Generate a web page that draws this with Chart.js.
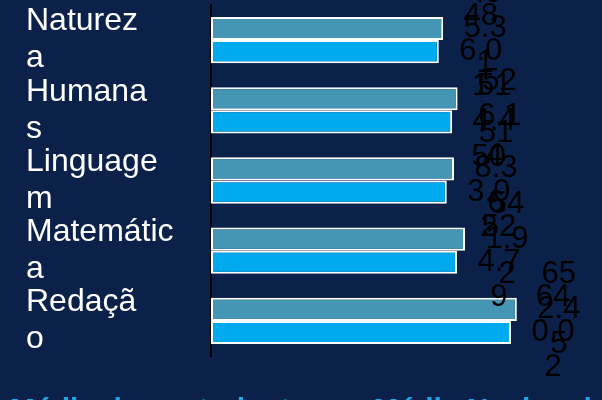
<!DOCTYPE html>
<html>
<head>
<meta charset="utf-8">
<script src="https://cdn.jsdelivr.net/npm/chart.js@4.4.1/dist/chart.umd.min.js"></script>
<style>
  html, body { margin: 0; padding: 0; background: #0B214A; }
  #wrap { width: 602px; height: 400px; position: relative; }
</style>
</head>
<body>
<div id="wrap"><canvas id="c" width="602" height="400"></canvas></div>
<script>
// ---- data ----
const categories = ["Natureza", "Humanas", "Linguagem", "Matemática", "Redação"];
const seriesNames = ["Média dos estudantes", "Média Nacional"];
const schoolValues = [495.31, 526.10, 518.36, 541.92, 652.45];
const nationalValues = [486.01, 514.44, 503.02, 524.79, 640.02];

const BG = '#0B214A';
const TEAL = '#4596B4';
const BLUE = '#00AAEE';

function splitLast(s) { return [s.slice(0, -1), s.slice(-1)]; }

const bgPlugin = {
  id: 'bg',
  beforeDraw(chart) {
    const ctx = chart.ctx;
    ctx.save();
    ctx.fillStyle = BG;
    ctx.fillRect(0, 0, chart.width, chart.height);
    ctx.restore();
  }
};

// wrapped black value labels next to bar ends
const valueLabels = {
  id: 'valueLabels',
  afterDatasetsDraw(chart) {
    const ctx = chart.ctx;
    ctx.save();
    ctx.font = '31px "Liberation Sans", Arial, sans-serif';
    ctx.fillStyle = '#000000';
    ctx.textAlign = 'center';
    ctx.textBaseline = 'middle';
    const maxW = 48, lh = 35;
    chart.data.datasets.forEach((ds, di) => {
      const meta = chart.getDatasetMeta(di);
      meta.data.forEach((el, i) => {
        const txt = String(ds.data[i]);
        const lines = [];
        let cur = '';
        for (const ch of txt) {
          if (cur && ctx.measureText(cur + ch).width > maxW) { lines.push(cur); cur = ch; }
          else cur += ch;
        }
        if (cur) lines.push(cur);
        const x = el.x + 42;
        const y0 = el.y - (lines.length - 1) * lh / 2;
        lines.forEach((ln, k) => ctx.fillText(ln, x, y0 + k * lh));
      });
    });
    ctx.restore();
  }
};

// legend text (colored, mostly clipped at the bottom edge)
const bottomLegend = {
  id: 'bottomLegend',
  afterDraw(chart) {
    const ctx = chart.ctx;
    ctx.save();
    ctx.font = 'bold 30px "Liberation Sans", Arial, sans-serif';
    ctx.fillStyle = '#1AA6E8';
    ctx.textAlign = 'center';
    ctx.textBaseline = 'alphabetic';
    const text = chart.data.datasets.map(d => d.label).join('      ');
    ctx.fillText(text, chart.width / 2, chart.chartArea.bottom + 63);
    ctx.restore();
  }
};

new Chart(document.getElementById('c'), {
  type: 'bar',
  data: {
    labels: categories,
    datasets: [
      { label: seriesNames[0], data: schoolValues, backgroundColor: TEAL, borderColor: '#FFFFFF', borderWidth: 2, borderSkipped: false },
      { label: seriesNames[1], data: nationalValues, backgroundColor: BLUE, borderColor: '#FFFFFF', borderWidth: 2, borderSkipped: false }
    ]
  },
  options: {
    indexAxis: 'y',
    responsive: false,
    animation: false,
    devicePixelRatio: 1,
    layout: { padding: { left: 26, right: 16, top: 5, bottom: 44 } },
    datasets: { bar: { categoryPercentage: 0.66, barPercentage: 1.0 } },
    plugins: {
      legend: { display: false },
      tooltip: { enabled: false },
      title: { display: false }
    },
    scales: {
      x: {
        display: false,
        min: 0,
        max: 800
      },
      y: {
        afterFit(scale) {
          scale.width = 185;
          scale.paddingTop = 0;
          scale.paddingBottom = 0;
        },
        grid: { display: false, drawTicks: false },
        border: { display: true, color: '#000000', width: 2 },
        ticks: {
          autoSkip: false,
          crossAlign: 'far',
          color: '#FFFFFF',
          font: { family: '"Liberation Sans", Arial, sans-serif', size: 32, lineHeight: 1.156 },
          callback: function (v, i) { return splitLast(categories[i]); }
        }
      }
    }
  },
  plugins: [bgPlugin, valueLabels, bottomLegend]
});
</script>
</body>
</html>
